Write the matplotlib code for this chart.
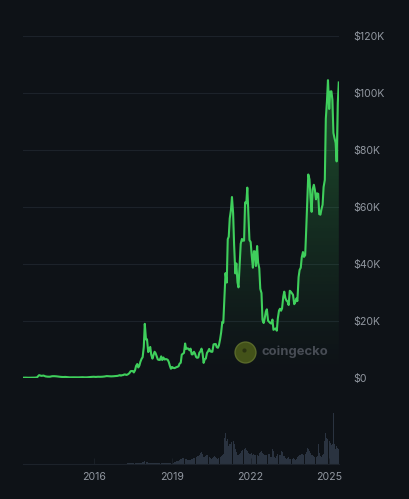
import numpy as np
import pandas as pd
import matplotlib
matplotlib.use("Agg")
import matplotlib.pyplot as plt
import matplotlib.dates as mdates

# BTC price, monthly 2013-04 .. 2016-12 (USD)
early_price = [
    100, 120, 125, 90, 105, 140, 130, 210, 1000,
    750, 850, 560, 460, 450, 630, 640, 580, 480, 390, 340, 380,
    315, 230, 255, 245, 235, 225, 260, 280, 230, 240, 325, 380,
    430, 370, 435, 415, 450, 535, 675, 625, 570, 610, 700, 750,
]
# BTC price, 1st and 15th of each month 2017-01 .. 2025-05 (USD)
late_price = [
    1000, 820, 990, 1010, 1220, 1250, 1080, 1180, 1420, 1750, 2400, 2450,
    2430, 1950, 2720, 4200, 4900, 3700, 4400, 5700, 6750, 7300, 10900, 19000,
    13500, 13600, 9100, 10100, 10900, 8200, 6800, 8000, 9200, 8700, 7500, 6500,
    6350, 6350, 7600, 6300, 7200, 6500, 6600, 6600, 6350, 5600, 4200, 3250,
    3850, 3600, 3450, 3600, 3800, 3900, 4150, 5050, 5350, 8200, 8550, 8800,
    12100, 10200, 10400, 10300, 9700, 10300, 8300, 8300, 9200, 8600, 7400, 7100,
    7200, 8800, 9400, 10300, 8600, 5300, 6600, 6800, 8800, 9300, 10200, 9400,
    9200, 9200, 11800, 11900, 11900, 10800, 10600, 11500, 13700, 16000, 19700, 19400,
    29400, 36800, 33500, 48700, 49600, 56000, 59000, 63500, 57800, 46700, 36700, 40200,
    33600, 31800, 39900, 47100, 48800, 48200, 48200, 61600, 61300, 66800, 57000, 48400,
    47700, 43100, 38700, 44500, 44400, 39300, 46300, 40500, 38500, 31300, 29800, 20400,
    19300, 20800, 23300, 24100, 20100, 19700, 19300, 19100, 20500, 16900, 17200, 17400,
    16600, 20900, 23700, 24300, 23600, 24400, 28500, 30300, 28000, 27200, 26800, 25600,
    30600, 30300, 29700, 29200, 25900, 26600, 27900, 27000, 35400, 37900, 38700, 42300,
    44200, 42500, 43100, 51900, 62400, 71400, 69700, 63400, 58300, 66200, 67800, 66000,
    62700, 64800, 64600, 57500, 57300, 59200, 60800, 67000, 69500, 91000, 97200, 104500,
    94400, 100500, 100600, 97600, 86000, 84300, 82500, 76000, 96500, 103700,
]

# traded volume (USD bn)
early_volume = [
    0.2, 0.2, 0.2, 0.2, 0.2, 0.2, 0.2, 0.3, 0.6,
    0.5, 0.4, 0.3, 0.3, 0.3, 0.3, 0.3, 0.3, 0.3, 0.3, 0.3, 0.3,
    0.3, 0.3, 0.3, 0.3, 0.3, 0.3, 0.3, 0.3, 0.3, 0.3, 0.3, 0.3,
    0.4, 0.4, 0.4, 0.4, 0.5, 0.8, 0.7, 0.5, 0.5, 0.5, 0.6, 0.8,
]
late_volume = [
    1, 1, 1, 1, 1.5, 1.5, 1.5, 2, 3, 3, 3, 3, 2.5, 2, 3, 4, 3, 3, 3, 4, 4, 5, 7, 8,
    6, 5, 4, 4, 3, 3, 3, 4, 3, 3, 2, 2, 2, 3, 2, 2, 2, 2, 2, 2, 3, 3, 3, 3,
    3, 4, 5, 6, 8, 9, 10, 12, 14, 16, 17, 19, 15, 14, 12, 12, 13, 11, 14, 16, 17, 18, 20, 24,
    24, 28, 33, 36, 30, 22, 20, 25, 26, 28, 20, 18, 16, 18, 22, 24, 20, 18, 16, 17, 20, 23, 26, 30,
    80, 95, 70, 75, 55, 60, 62, 68, 70, 62, 45, 35, 28, 26, 30, 32, 38, 42, 45, 50, 44, 40, 34, 30,
    30, 32, 28, 30, 26, 28, 26, 25, 33, 36, 38, 34, 30, 28, 27, 26, 30, 29, 22, 20, 45, 38, 20, 18,
    24, 30, 28, 26, 40, 36, 25, 24, 18, 16, 18, 20, 16, 15, 14, 18, 14, 13, 15, 22, 24, 26, 28, 30,
    30, 28, 30, 36, 48, 46, 38, 34, 28, 26, 24, 22, 22, 24, 60, 34, 24, 22, 26, 30, 70, 93, 80, 75,
    70, 65, 58, 62, 155, 60, 45, 55, 48, 45,
]

tick_years = ["2016", "2019", "2022", "2025"]
y_ticks = [0, 20000, 40000, 60000, 80000, 100000, 120000]
y_labels = ["$0", "$20K", "$40K", "$60K", "$80K", "$100K", "$120K"]

early_dates = pd.date_range("2013-04-01", "2016-12-01", freq="MS")
late_dates = pd.date_range("2017-01-01", "2025-05-15", freq="SMS")
dates = early_dates.append(late_dates)
price = np.array(early_price + late_price, dtype=float)

bg = "#0e1217"
green = "#3fcf5c"
grid_c = "#1c222a"
text_c = "#9197a0"

plt.rcParams["font.family"] = ["Inter", "DejaVu Sans"]

fig = plt.figure(figsize=(4.10, 4.99), dpi=100, facecolor=bg)
W, H = 410, 499
x0, x1 = 23, 339
ax = fig.add_axes([x0 / W, (H - 378) / H, (x1 - x0) / W, 342 / H])
axv = fig.add_axes([x0 / W, (H - 464) / H, (x1 - x0) / W, 56 / H])

xmin = pd.Timestamp("2013-04-20")
xmax = pd.Timestamp("2025-05-18")

# price line + gradient fill
ax.set_facecolor(bg)
ax.plot(dates, price, color=green, lw=1.5, zorder=4, solid_joinstyle="round")
fill = ax.fill_between(dates, price, 0, facecolor="none", edgecolor="none")
grad = np.zeros((256, 1, 4))
grad[:, 0, 0] = 0x3f / 255
grad[:, 0, 1] = 0xcf / 255
grad[:, 0, 2] = 0x5c / 255
grad[:, 0, 3] = np.linspace(0.40, 0.0, 256) ** 1.2
im = ax.imshow(grad, aspect="auto", origin="upper",
               extent=[mdates.date2num(xmin), mdates.date2num(xmax), 0, 105000],
               zorder=2)
im.set_clip_path(fill.get_paths()[0], transform=ax.transData)

ax.set_xlim(xmin, xmax)
ax.set_ylim(0, 120000)
ax.set_yticks(y_ticks)
ax.set_yticklabels(y_labels)
ax.yaxis.tick_right()
ax.tick_params(axis="y", length=0, pad=10, labelsize=7.6, labelcolor=text_c)
ax.set_xticks([])
ax.grid(axis="y", color=grid_c, lw=0.8)
ax.set_axisbelow(True)
for s in ax.spines.values():
    s.set_visible(False)

# watermark
fig.lines.append(plt.Line2D([245 / W], [(H - 352) / H], transform=fig.transFigure,
                            marker="o", ms=15, mfc="#435219", mec="#59692a", mew=1.0,
                            ls="none", zorder=5))
fig.lines.append(plt.Line2D([244 / W], [(H - 350) / H], transform=fig.transFigure,
                            marker="o", ms=3, mfc="#2a3312", mec="none", ls="none", zorder=6))
fig.text(262 / W, (H - 352) / H, "coingecko", color="#474c54", fontsize=9.4,
         fontweight="bold", va="center", ha="left", zorder=5)

# volume bars
axv.set_facecolor(bg)
axv.bar(early_dates, early_volume, width=28, color="#2a3340", lw=0)
axv.bar(late_dates, late_volume, width=14, color="#2a3340", lw=0)
axv.set_xlim(xmin, xmax)
axv.set_ylim(0, 170)
axv.set_yticks([])
tick_pos = [pd.Timestamp(y + "-01-01") for y in tick_years]
axv.set_xticks(tick_pos)
axv.set_xticklabels(tick_years)
axv.tick_params(axis="x", direction="in", length=4, width=0.6, color=grid_c,
                pad=6, labelsize=7.6, labelcolor=text_c)
for s in axv.spines.values():
    s.set_visible(False)
axv.spines["bottom"].set_visible(True)
axv.spines["bottom"].set_color(grid_c)
axv.spines["bottom"].set_linewidth(0.8)

fig.savefig("out.png", dpi=100, facecolor=bg)
